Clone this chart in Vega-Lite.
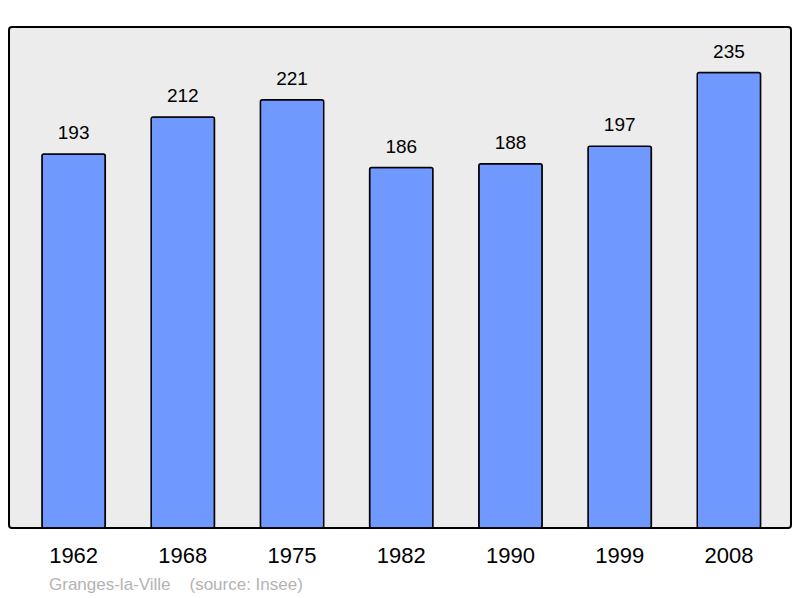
{
  "$schema": "https://vega.github.io/schema/vega-lite/v6.json",
  "autosize": "none",
  "width": 782,
  "height": 501,
  "padding": {"left": 9, "top": 27, "right": 9, "bottom": 70},
  "background": "white",
  "config": {
    "view": {"fill": "#ececec", "stroke": "#000000", "strokeWidth": 2, "cornerRadius": 3},
    "font": "Liberation Sans"
  },
  "title": {
    "text": "Granges-la-Ville\u00a0\u00a0\u00a0\u00a0(source: Insee)",
    "orient": "bottom",
    "anchor": "start",
    "dx": 40,
    "offset": 11,
    "fontSize": 17,
    "fontWeight": "normal",
    "color": "#b3b3b3",
    "font": "Liberation Sans"
  },
  "data": {
    "values": [
      {"year": "1962", "pop": 193},
      {"year": "1968", "pop": 212},
      {"year": "1975", "pop": 221},
      {"year": "1982", "pop": 186},
      {"year": "1990", "pop": 188},
      {"year": "1999", "pop": 197},
      {"year": "2008", "pop": 235}
    ]
  },
  "encoding": {
    "x": {
      "field": "year",
      "type": "ordinal",
      "sort": null,
      "scale": {"paddingInner": 0.42, "paddingOuter": 0.29, "align": 0.52},
      "axis": {
        "title": null,
        "domain": false,
        "ticks": false,
        "labelAngle": 0,
        "labelFontSize": 22,
        "labelColor": "#000000",
        "labelPadding": 17,
        "labelFont": "Liberation Sans"
      }
    },
    "y": {
      "field": "pop",
      "type": "quantitative",
      "scale": {"domain": [0, 258.5], "nice": false},
      "axis": null
    }
  },
  "layer": [
    {
      "mark": {"type": "bar", "fill": "#7099ff", "stroke": "#000000", "strokeWidth": 1.5, "cornerRadius": 2}
    },
    {
      "mark": {"type": "text", "fontSize": 19, "color": "#000000", "baseline": "alphabetic", "dy": -15, "font": "Liberation Sans"},
      "encoding": {"text": {"field": "pop", "type": "quantitative"}}
    }
  ]
}
